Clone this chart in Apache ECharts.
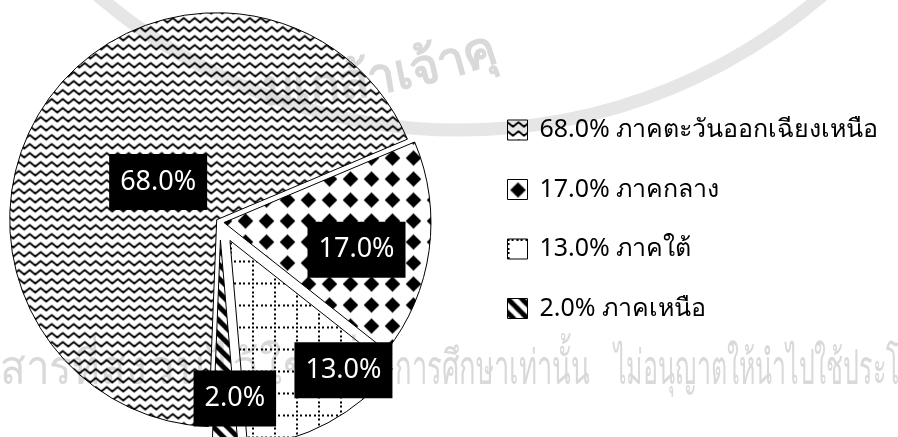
<!DOCTYPE html>
<html><head><meta charset="utf-8">
<script src="https://cdn.jsdelivr.net/npm/echarts@6/dist/echarts.min.js"></script>
<style>html,body{margin:0;padding:0;background:#fff}#c{width:898px;height:437px}</style>
</head><body><div id="c"></div>
<script>
// ---- data ----
const categories = ['ภาคตะวันออกเฉียงเหนือ', 'ภาคกลาง', 'ภาคใต้', 'ภาคเหนือ'];
const shares = [68.0, 17.0, 13.0, 2.0];

// ---- styles (not data) ----
const sliceOffsets = [4, 4, 21, 18];
const labelShift = [[29, 23], [27, 13], [63, 36], [12, 52]];
const FONT = '"Noto Sans", "Open Sans", "DejaVu Sans", sans-serif';
const WM_TEXT = '#d9d9d9';
const WM_BAND = '#e6e6e6';

// pattern tiles: black marks on a transparent ground (the white page shows through)
function tile(w, h, draw) {
  const c = document.createElement('canvas');
  c.width = w; c.height = h;
  const g = c.getContext('2d');
  g.fillStyle = '#000'; g.strokeStyle = '#000';
  draw(g, w, h);
  return c;
}
const wave = tile(11, 9, (g, w, h) => {
  g.lineWidth = 1.9; g.lineJoin = 'round';
  for (const oy of [-h, 0, h]) {
    g.beginPath();
    let k = 0;
    for (let x = -w; x <= 2 * w; x += w / 2, k++) {
      const y = oy + (k % 2 === 0 ? 2.3 : 6.7);
      if (k === 0) g.moveTo(x, y); else g.lineTo(x, y);
    }
    g.stroke();
  }
});
const diamond = tile(21, 21, (g, w, h) => {
  const r = 7.8;
  const cx = w / 2, cy = h / 2;
  g.beginPath();
  g.moveTo(cx, cy - r); g.lineTo(cx + r, cy); g.lineTo(cx, cy + r); g.lineTo(cx - r, cy);
  g.closePath(); g.fill();
});
const dotgrid = tile(22, 22, (g, w, h) => {
  for (let i = 0; i < 5; i++) {
    g.fillRect(Math.round(i * 4.4), 0, 2, 2);
    g.fillRect(0, Math.round(i * 4.4), 2, 2);
  }
});
const diag = tile(14, 14, (g, w, h) => {
  g.lineWidth = 5;
  for (let k = -1; k <= 1; k++) {
    g.beginPath(); g.moveTo(k * w - 3, -3); g.lineTo(k * w + w + 3, h + 3); g.stroke();
  }
});
const patterns = [wave, diamond, dotgrid, diag].map(c => ({ image: c, repeat: 'repeat' }));

const chart = echarts.init(document.getElementById('c'), null, { renderer: 'canvas' });

const series = categories.map((_, k) => ({
  type: 'pie',
  center: [220, 222],
  radius: 207,
  startAngle: 267.7,
  clockwise: true,
  selectedMode: 'multiple',
  selectedOffset: sliceOffsets[k],
  avoidLabelOverlap: false,
  animation: false,
  silent: true,
  emphasis: { disabled: true },
  labelLine: { show: false },
  labelLayout: { dx: labelShift[k][0], dy: labelShift[k][1] },
  z: 2 + k,
  data: categories.map((name, i) => i === k ? {
    name, value: shares[i], selected: true,
    itemStyle: { color: patterns[i], borderColor: '#000', borderWidth: 1 },
    label: {
      show: true, position: 'inside',
      formatter: shares[i].toFixed(1) + '%',
      color: '#fff', backgroundColor: '#000',
      fontSize: 27, fontFamily: FONT, lineHeight: 36, padding: [10, 11, 10, 11]
    }
  } : {
    name, value: shares[i],
    itemStyle: { color: 'rgba(0,0,0,0)', borderWidth: 0 },
    label: { show: false }
  })
}));

// ---- watermark of the scanned page (decorative, behind the chart) ----
const mctx = document.createElement('canvas').getContext('2d');
function measure(t, font) { mctx.font = font; return mctx.measureText(t).width; }
function wmText(text, x, y, rot, font, sx) {
  return { type: 'text', z: -10, silent: true, x, y, rotation: rot || 0, scaleX: sx || 1, scaleY: 1,
    style: { text, fill: WM_TEXT, font, verticalAlign: 'bottom', align: 'left' } };
}
function arcText(text, cx, cy, r, theta0, font) {
  const segs = (typeof Intl !== 'undefined' && Intl.Segmenter)
    ? Array.from(new Intl.Segmenter('th', { granularity: 'grapheme' }).segment(text), s => s.segment)
    : Array.from(text);
  const out = [];
  let th = theta0;
  for (const s of segs) {
    out.push(wmText(s, cx + r * Math.sin(th), cy + r * Math.cos(th), th, font));
    th += measure(s, font) / r;
  }
  return out;
}
// a text run whose part after `skip` spans x0..x1
function fitText(full, skip, visible, x0, x1, y, font) {
  const s = (x1 - x0) / measure(visible, font);
  return wmText(full, x0 - measure(skip, font) * s, y, 0, font, s);
}
const arcFont = 'bold 50px ' + FONT;
const lineFont = '48px ' + FONT;

chart.setOption({
  backgroundColor: '#fff',
  animation: false,
  graphic: [
    { type: 'arc', z: -10, silent: true,
      shape: { cx: 460, cy: -425, r: 555, startAngle: 0.7, endAngle: 2.5 },
      style: { stroke: WM_BAND, lineWidth: 13, fill: null } },
    ...arcText('มเกล้าเจ้าคุ', 254, -594, 710, 0.011, arcFont),
    fitText('เอกสารที่สง', 'เอก', 'สารที่สง', 0, 146, 394, lineFont),
    fitText('วนไว้ใช้เพื่อ', '', 'วนไว้ใช้เพื่อ', 148, 392, 394, lineFont),
    fitText('การศึกษาเท่านั้น', '', 'การศึกษาเท่านั้น', 395, 590, 394, lineFont),
    fitText('ไม่อนุญาตให้นำไปใช้ประโยชน์', '', 'ไม่อนุญาตให้นำไปใช้ประ', 614, 886, 394, lineFont)
  ],
  legend: {
    orient: 'vertical',
    left: 502, top: 112,
    itemWidth: 20, itemHeight: 20,
    itemGap: 33.5,
    selectedMode: false,
    data: categories.map((name, i) => ({
      name, icon: 'rect',
      itemStyle: { color: patterns[i], borderColor: '#000', borderWidth: 1 }
    })),
    formatter: name => shares[categories.indexOf(name)].toFixed(1) + '% ' + name,
    textStyle: { fontSize: 25, lineHeight: 26, color: '#000', fontFamily: FONT, padding: [0, 0, 0, 7] }
  },
  series
});
</script>
</body></html>
